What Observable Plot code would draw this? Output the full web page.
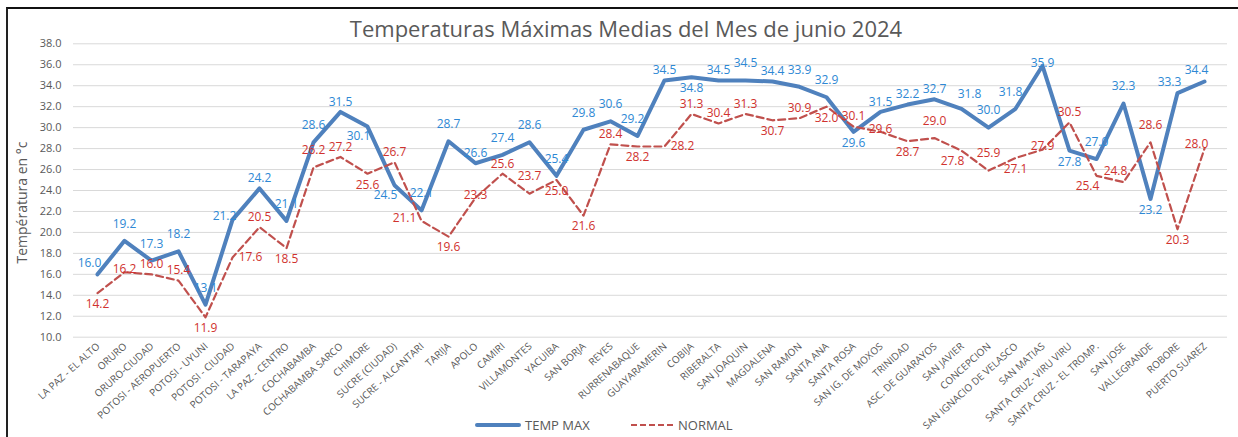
<!DOCTYPE html>
<html>
<head>
<meta charset="utf-8">
<script src="https://cdn.jsdelivr.net/npm/d3@7"></script>
<script src="https://cdn.jsdelivr.net/npm/@observablehq/plot@0.6"></script>
<style>
  body { margin: 0; background: #fff; font-family: "Open Sans", sans-serif; }
  #wrap { position: relative; width: 1238px; height: 437px; overflow: hidden; background: #fff; }
  #frame { position: absolute; left: 6px; top: 7px; width: 1260px; height: 460px; border-top: 2px solid #111; border-left: 2px solid #222; }
  #title { position: absolute; top: 12px; left: 0; width: 1252px; text-align: center; font-size: 22px; color: #595959; line-height: 32px; }
  #chart { position: absolute; top: 40px; left: 0; }
  #chart svg { overflow: visible; }
  #legend { position: absolute; top: 415px; left: 0; width: 1238px; height: 20px; font-size: 13px; color: #595959; }
  .lg { position: absolute; top: 0; display: flex; align-items: center; height: 20px; }
  .lg span { margin-left: 4px; }
</style>
</head>
<body>
<div id="wrap">
  <div id="frame"></div>
  <div id="title">Temperaturas Máximas Medias del Mes de junio 2024</div>
  <div id="chart"></div>
  <div id="legend">
    <div class="lg" style="left:475px"><svg width="46" height="8"><line x1="2" y1="4" x2="44" y2="4" stroke="#4F81BD" stroke-width="4" stroke-linecap="round"/></svg><span>TEMP MAX</span></div>
    <div class="lg" style="left:630px"><svg width="44" height="8"><line x1="1" y1="4" x2="43" y2="4" stroke="#C0504D" stroke-width="2.2" stroke-dasharray="6,3"/></svg><span>NORMAL</span></div>
  </div>
</div>
<script>
const categories = [
  "LA PAZ - EL ALTO", "ORURO", "ORURO-CIUDAD", "POTOSI - AEROPUERTO", "POTOSI - UYUNI",
  "POTOSI - CIUDAD", "POTOSI - TARAPAYA", "LA PAZ - CENTRO", "COCHABAMBA", "COCHABAMBA SARCO",
  "CHIMORE", "SUCRE (CIUDAD)", "SUCRE - ALCANTARI", "TARIJA", "APOLO",
  "CAMIRI", "VILLAMONTES", "YACUIBA", "SAN BORJA", "REYES",
  "RURRENABAQUE", "GUAYARAMERIN", "COBIJA", "RIBERALTA", "SAN JOAQUIN",
  "MAGDALENA", "SAN RAMON", "SANTA ANA", "SANTA ROSA", "SAN IG. DE MOXOS",
  "TRINIDAD", "ASC. DE GUARAYOS", "SAN JAVIER", "CONCEPCION", "SAN IGNACIO DE VELASCO",
  "SAN MATIAS", "SANTA CRUZ- VIRU VIRU", "SANTA CRUZ - EL TROMP.", "SAN JOSE", "VALLEGRANDE",
  "ROBORE", "PUERTO SUAREZ"
];
const tempMax = [
  16.0, 19.2, 17.3, 18.2, 13.1,
  21.2, 24.2, 21.1, 28.6, 31.5,
  30.1, 24.5, 22.1, 28.7, 26.6,
  27.4, 28.6, 25.4, 29.8, 30.6,
  29.2, 34.5, 34.8, 34.5, 34.5,
  34.4, 33.9, 32.9, 29.6, 31.5,
  32.2, 32.7, 31.8, 30.0, 31.8,
  35.9, 27.8, 27.0, 32.3, 23.2,
  33.3, 34.4
];
const normal = [
  14.2, 16.2, 16.0, 15.4, 11.9,
  17.6, 20.5, 18.5, 26.2, 27.2,
  25.6, 26.7, 21.1, 19.6, 23.3,
  25.6, 23.7, 25.0, 21.6, 28.4,
  28.2, 28.2, 31.3, 30.4, 31.3,
  30.7, 30.9, 32.0, 30.1, 29.6,
  28.7, 29.0, 27.8, 25.9, 27.1,
  27.9, 30.5, 25.4, 24.8, 28.6,
  20.3, 28.0
];
// data-label placement codes (t/T = above near/far, b = below, l/L = left far/near, r = right, c = on point, tl/TL/tr/bl = diagonal)
const maxLabelPos = [
  "tl","T","T","T","T",
  "L","t","T","T","t",
  "bl","bl","T","T","t",
  "T","T","T","T","T",
  "TL","t","b","t","T",
  "t","T","T","b","t",
  "t","t","tr","T","TL",
  "c","b","T","T","b",
  "tl","tl"
];
const normalLabelPos = [
  "b","c","t","t","b",
  "r","t","b","T","t",
  "b","t","l","b","c",
  "t","T","b","b","t",
  "b","r","t","t","t",
  "b","t","b","t","c",
  "b","T","bl","T","b",
  "c","t","bl","tl","T",
  "b","L"
];
const yTicks = [10, 12, 14, 16, 18, 20, 22, 24, 26, 28, 30, 32, 34, 36, 38];

const BLUE = "#4F81BD", RED = "#C0504D", BLUE_L = "#2E88D4", RED_L = "#D0322E", GREY = "#595959";
const OFF = {
  t: [0, -10], T: [0, -17], b: [0, 11], l: [-17, -3], L: [-8, -4], r: [18, 0],
  bl: [-9, 10], tl: [-8, -11], TL: [-5, -17], tr: [8, -15], c: [0, -3]
};

const rows = categories.map((c, i) => ({ cat: c, max: tempMax[i], normal: normal[i], mpos: maxLabelPos[i], npos: normalLabelPos[i] }));

const labelMarks = [];
for (const k of Object.keys(OFF)) {
  labelMarks.push(Plot.text(rows.filter(d => d.mpos === k), {
    x: "cat", y: "max", text: d => d.max.toFixed(1), dx: OFF[k][0], dy: OFF[k][1],
    fill: BLUE_L, fontSize: 12
  }));
  labelMarks.push(Plot.text(rows.filter(d => d.npos === k), {
    x: "cat", y: "normal", text: d => d.normal.toFixed(1), dx: OFF[k][0], dy: OFF[k][1],
    fill: RED_L, fontSize: 12
  }));
}

const chart = Plot.plot({
  width: 1238,
  height: 385,
  marginLeft: 73,
  marginRight: 11,
  marginTop: 3.3,
  marginBottom: 88.3,
  style: { fontFamily: "Open Sans, sans-serif", background: "transparent", color: GREY, overflow: "visible" },
  x: { type: "point", domain: categories, padding: 0.5, axis: null },
  y: { domain: [10, 38], axis: null },
  marks: [
    Plot.ruleY(yTicks, { stroke: "#d9d9d9", strokeWidth: 1 }),
    Plot.axisY({ ticks: yTicks, tickSize: 0, tickPadding: 12, tickFormat: d3.format(".1f"), fontSize: 11, color: GREY }),
    Plot.text(["Températura en °c"], { frameAnchor: "left", textAnchor: "middle", dx: -51, dy: 12, rotate: -90, fontSize: 14, fill: GREY }),
    Plot.text(categories, { x: d => d, frameAnchor: "bottom", rotate: -42, textAnchor: "end", dx: 3, dy: 10, fontSize: 10, fill: GREY }),
    Plot.line(rows, { x: "cat", y: "max", stroke: BLUE, strokeWidth: 4, strokeLinejoin: "round" }),
    Plot.line(rows, { x: "cat", y: "normal", stroke: RED, strokeWidth: 2.2, strokeDasharray: "7,4" }),
    ...labelMarks
  ]
});
document.getElementById("chart").appendChild(chart);
</script>
</body>
</html>
